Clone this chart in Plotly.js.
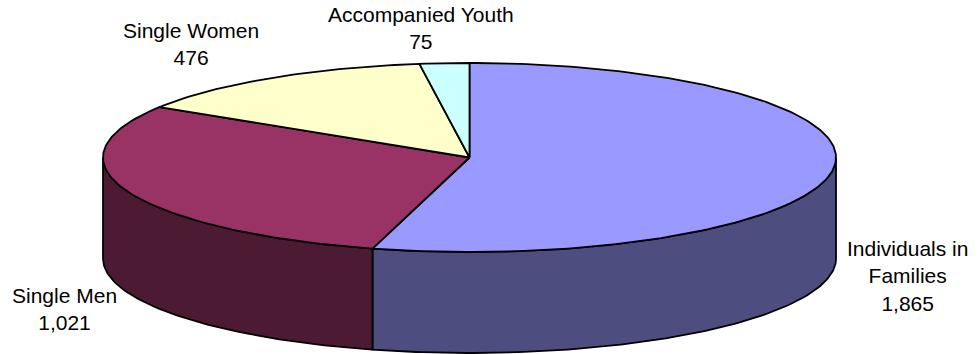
<!DOCTYPE html>
<html>
<head>
<meta charset="utf-8">
<script src="https://cdn.plot.ly/plotly-3.0.1.min.js"></script>
<style>html,body{margin:0;padding:0;background:#fff}#chart{width:979px;height:354px}</style>
</head>
<body>
<div id="chart"></div>
<script>
// Homeless population by household type, drawn clockwise from twelve o'clock.
const categories = ['Individuals in<br>Families', 'Single Men', 'Single Women', 'Accompanied Youth'];
const values = [1865, 1021, 476, 75];
const topColors = ['#9999FF', '#993366', '#FFFFCC', '#CCFFFF'];
const sideColors = ['#4D4D80', '#4D1A33', '#808066', '#668080'];
const labelX = [907.5, 64, 190.5, 421];
const labelY = [276, 308.5, 43.5, 27.5];

// Tilted disc geometry on a pixel-scaled axis pair.
const cx = 469.5, cy = 157.5, rx = 366.5, ry = 94.5, depth = 101;

const px = a => cx + rx * Math.sin(a * Math.PI / 180);
const py = a => cy - ry * Math.cos(a * Math.PI / 180);

function arc(a0, a1) {
  const n = Math.max(2, Math.ceil(Math.abs(a1 - a0)));
  const xs = [], ys = [];
  for (let i = 0; i <= n; i++) {
    const a = a0 + (a1 - a0) * i / n;
    xs.push(px(a));
    ys.push(py(a));
  }
  return {xs, ys};
}

const total = values.reduce((s, v) => s + v, 0);
let running = 0;
const slices = values.map(v => {
  const start = running / total * 360;
  running += v;
  return {start, end: running / total * 360};
});

const outline = {color: '#000', width: 1.8};
const traces = [];

// Rim: only the front half of the disc (90° to 270°) is visible.
slices.forEach((s, i) => {
  const a0 = Math.max(s.start, 90), a1 = Math.min(s.end, 270);
  if (a1 <= a0) return;
  const t = arc(a0, a1);
  traces.push({
    type: 'scatter', mode: 'lines', fill: 'toself', fillcolor: sideColors[i],
    x: [...t.xs, ...t.xs.slice().reverse(), t.xs[0]],
    y: [...t.ys, ...t.ys.slice().reverse().map(y => y + depth), t.ys[0]],
    line: outline, hoverinfo: 'skip'
  });
});

// Top face wedges.
slices.forEach((s, i) => {
  const t = arc(s.start, s.end);
  traces.push({
    type: 'scatter', mode: 'lines', fill: 'toself', fillcolor: topColors[i],
    x: [cx, ...t.xs, cx],
    y: [cy, ...t.ys, cy],
    line: outline, hoverinfo: 'skip'
  });
});

const annotations = categories.map((c, i) => ({
  x: labelX[i], y: labelY[i], xref: 'x', yref: 'y',
  xanchor: 'center', yanchor: 'middle', align: 'center', showarrow: false,
  text: c + '<br>' + values[i].toLocaleString('en-US'),
  font: {family: '"Liberation Sans", Arial, sans-serif', size: 21, color: '#000'}
}));

Plotly.newPlot('chart', traces, {
  width: 979, height: 354,
  margin: {l: 0, r: 0, t: 0, b: 0},
  paper_bgcolor: '#fff', plot_bgcolor: '#fff',
  showlegend: false,
  xaxis: {range: [0, 979], visible: false, fixedrange: true},
  yaxis: {range: [354, 0], visible: false, fixedrange: true},
  annotations
}, {displayModeBar: false, staticPlot: true});
</script>
</body>
</html>
